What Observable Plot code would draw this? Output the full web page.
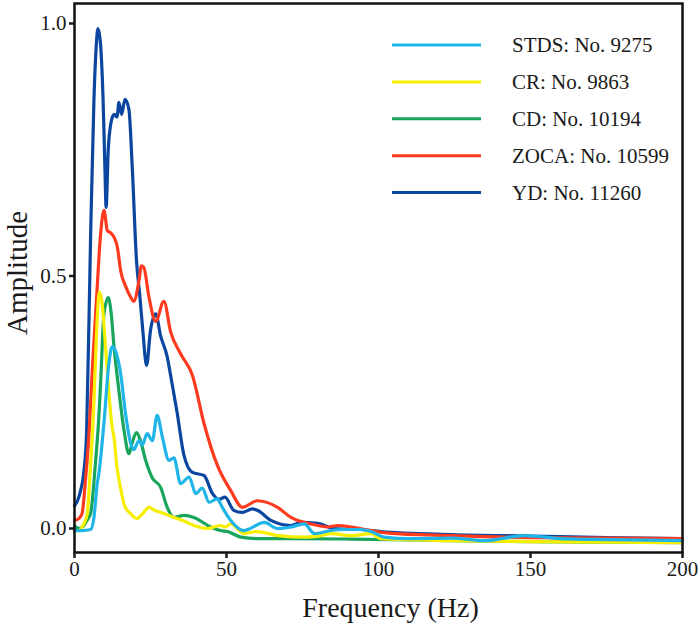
<!DOCTYPE html>
<html><head><meta charset="utf-8">
<script src="https://cdn.jsdelivr.net/npm/d3@7"></script>
<script src="https://cdn.jsdelivr.net/npm/@observablehq/plot@0.6"></script>
<style>
body{margin:0;background:#fff}
#chart{width:699px;height:628px}
#chart svg, #chart svg text{font-family:"Liberation Serif","Times New Roman",serif !important;}
</style>
</head><body><div id="chart"></div>
<script>
// Legend order (top to bottom)
const seriesNames = ["STDS: No. 9275", "CR: No. 9863", "CD: No. 10194", "ZOCA: No. 10599", "YD: No. 11260"];
const seriesColors = ["#1fb5e8", "#f7ef00", "#19a55c", "#ff3b1f", "#0b47a0"];
const xTicks = [0, 50, 100, 150, 200];
const yTicks = [0, 0.5, 1.0];
const xTitle = "Frequency (Hz)";
const yTitle = "Amplitude";

// [frequency Hz, amplitude]
const stdsPoints = [[0,-0.004],[2.5,-0.004],[5.3,-0.002],[6.4,0.022],[7.5,0.09],[8,0.108],[9.7,0.21],[11.3,0.326],[12.4,0.36],[14.1,0.34],[15.2,0.306],[16.8,0.227],[18.5,0.168],[19.5,0.156],[21.2,0.174],[22.3,0.165],[23.9,0.188],[25.6,0.174],[27.2,0.224],[28.9,0.181],[31.1,0.135],[32.7,0.14],[34.9,0.089],[37.7,0.102],[39.9,0.069],[42,0.08],[44.3,0.052],[47,0.059],[48,0.049],[49.2,0.036],[51.4,0.016],[55.8,-0.004],[62.4,0.012],[66.8,0.0],[71.2,0.003],[75.6,0.009],[78.9,-0.01],[84.4,-0.004],[88.7,-0.002],[94.2,-0.002],[97.5,-0.006],[101.9,-0.017],[110,-0.02],[124,-0.019],[135,-0.024],[148,-0.014],[160,-0.02],[175,-0.022],[200,-0.024]];
const crPoints = [[0,-0.004],[1.5,-0.004],[2.5,0.003],[3.5,0.015],[4.2,0.03],[5.3,0.128],[6.4,0.25],[7.2,0.38],[8.2,0.468],[9.2,0.44],[10.2,0.36],[11.3,0.27],[12.4,0.2],[13,0.18],[14,0.12],[15,0.085],[16.5,0.045],[18.5,0.029],[20.6,0.02],[22.5,0.03],[24.5,0.042],[26.7,0.035],[28.3,0.032],[32.7,0.022],[36,0.015],[39.3,0.006],[43.7,0.0],[48,0.006],[49.5,0.003],[51.4,0.009],[55.8,-0.01],[60.2,-0.006],[66.8,-0.014],[75.6,-0.017],[81,-0.014],[84.4,-0.01],[91,-0.014],[97.5,-0.01],[100.8,-0.02],[124,-0.024],[150,-0.026],[175,-0.027],[200,-0.028]];
const cdPoints = [[0,0.005],[1.5,0.0],[3,0.005],[4,0.015],[5.3,0.03],[6.9,0.13],[8,0.22],[8.6,0.29],[9.7,0.425],[11.1,0.457],[12,0.43],[13,0.36],[14.6,0.273],[16.3,0.194],[17.9,0.148],[19,0.17],[20.4,0.19],[21.7,0.174],[23.4,0.135],[25.6,0.1],[28.3,0.082],[30.5,0.042],[32.7,0.022],[36,0.026],[39.3,0.022],[44.8,0.003],[48,-0.004],[50.3,-0.006],[54.7,-0.017],[60,-0.02],[70,-0.02],[91,-0.021],[124,-0.024],[150,-0.026],[175,-0.027],[200,-0.028]];
const zocaPoints = [[0,0.016],[1.5,0.02],[2.5,0.03],[3.6,0.095],[4.7,0.18],[6,0.33],[7.2,0.45],[8.6,0.584],[9.7,0.63],[10.8,0.59],[12,0.585],[13,0.577],[14.1,0.557],[15.2,0.51],[16.8,0.48],[18.5,0.458],[19.5,0.45],[21.2,0.49],[22,0.52],[22.8,0.517],[24.5,0.458],[26.7,0.41],[29.4,0.45],[31.6,0.39],[34.9,0.346],[38.8,0.303],[42.6,0.208],[47,0.125],[51.4,0.075],[55.2,0.042],[60.2,0.055],[66.8,0.042],[71.2,0.022],[77.8,0.009],[83.3,0.003],[86.6,0.006],[91,0.003],[97.5,-0.004],[103,-0.009],[124,-0.014],[150,-0.018],[175,-0.019],[200,-0.02]];
const ydPoints = [[0,0.045],[1,0.055],[2,0.075],[3,0.108],[4,0.194],[5.3,0.58],[6.4,0.85],[7.2,0.96],[7.7,0.99],[8.4,0.97],[9.4,0.85],[10,0.715],[10.4,0.636],[11.1,0.75],[11.9,0.8],[13,0.82],[14,0.815],[14.6,0.844],[15.5,0.82],[16.6,0.85],[17.9,0.83],[19,0.715],[20.4,0.53],[21.5,0.46],[22.5,0.39],[23.7,0.323],[25,0.392],[26.7,0.425],[28.3,0.382],[30.5,0.34],[32,0.29],[33.8,0.228],[35.9,0.148],[38.8,0.111],[42.6,0.105],[45.4,0.069],[47.5,0.058],[49.5,0.062],[52.4,0.036],[55.2,0.032],[58.5,0.039],[60.2,0.036],[64.6,0.016],[71.2,0.006],[74.5,0.012],[80,0.01],[85.5,0.0],[94.2,-0.002],[100.8,-0.006],[124,-0.012],[150,-0.015],[175,-0.018],[200,-0.02]];

const seriesPoints = [stdsPoints, crPoints, cdPoints, zocaPoints, ydPoints];
// draw order: YD first, STDS last (on top)
const rows = [];
for (let i = seriesNames.length - 1; i >= 0; i--) {
  for (const [f, a] of seriesPoints[i]) rows.push({name: seriesNames[i], freq: f, amp: a});
}

const serif = "Liberation Serif";
const chart = Plot.plot({
  width: 699, height: 628,
  marginLeft: 74, marginRight: 17, marginTop: 3, marginBottom: 76,
  style: {fontFamily: serif, background: "#fff", color: "#1a1a1a", overflow: "visible"},
  x: {domain: [0, 200]},
  y: {domain: [-0.0475, 1.0396]},
  color: {domain: seriesNames, range: seriesColors},
  marks: [
    Plot.line(rows, {x: "freq", y: "amp", z: "name", stroke: "name", strokeWidth: 3.2, curve: "monotone-x", strokeLinejoin: "round"}),
    Plot.frame({stroke: "#111", strokeWidth: 2.5}),
    Plot.axisX({ticks: xTicks, tickSize: 6, tickPadding: 3, fontSize: 21, fontFamily: serif, strokeWidth: 2.5, label: null}),
    Plot.axisY({ticks: yTicks, tickFormat: d3.format(".1f"), tickSize: 5, tickPadding: 3, fontSize: 21, fontFamily: serif, strokeWidth: 2.5, label: null}),
    Plot.text([xTitle], {text: d => d, frameAnchor: "bottom", lineAnchor: "middle", textAnchor: "middle", dy: 56, dx: 12, fontSize: 28, fontFamily: serif}),
    Plot.text([yTitle], {text: d => d, frameAnchor: "left", lineAnchor: "middle", textAnchor: "middle", dx: -57, dy: -5, rotate: -90, fontSize: 29, fontFamily: serif})
  ]
});

// Legend inside plot area
const svg = d3.select(chart);
const lg = svg.append("g").attr("font-family", serif).attr("font-size", 21).attr("fill", "#1a1a1a").attr("text-anchor", "start");
seriesNames.forEach((n, i) => {
  const yy = 45 + i * 36.9;
  lg.append("line").attr("x1", 392).attr("x2", 481).attr("y1", yy).attr("y2", yy)
    .attr("stroke", seriesColors[i]).attr("stroke-width", 3);
  lg.append("text").attr("x", 512).attr("y", yy).attr("dy", "0.35em").attr("text-anchor", "start").text(n);
});

document.getElementById("chart").append(chart);
</script>
</body></html>
